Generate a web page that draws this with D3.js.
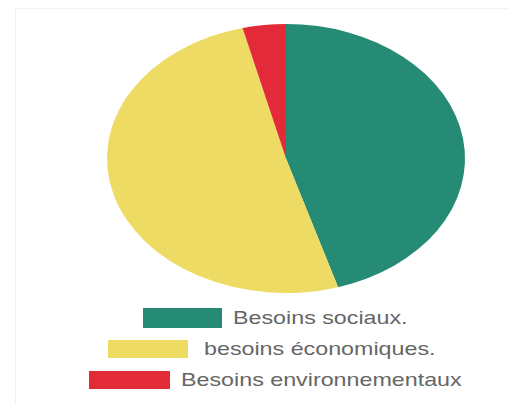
<!DOCTYPE html>
<html>
<head>
<meta charset="utf-8">
<script src="https://cdn.jsdelivr.net/npm/d3@7"></script>
<style>
  html, body { margin: 0; padding: 0; background: #fff; }
  svg { display: block; }
</style>
</head>
<body>
<svg id="chart" width="509" height="405"></svg>
<script>
// Share of needs (percent)
const categories = ["Besoins sociaux.", "besoins économiques.", "Besoins environnementaux"];
const values = [45.3, 50.8, 3.9];
const colors = ["#268b74", "#eedb63", "#e22a38"];

const W = 509, H = 405;
const svg = d3.select("#chart");

// faint frame around the panel
svg.append("line").attr("x1", 15).attr("x2", W).attr("y1", 8.5).attr("y2", 8.5)
  .attr("stroke", "#f2f2f2").attr("stroke-width", 1);
svg.append("line").attr("x1", 15.5).attr("x2", 15.5).attr("y1", 8).attr("y2", H)
  .attr("stroke", "#f2f2f2").attr("stroke-width", 1);

// horizontally stretched pie
const cx = 286, cy = 158.5, rx = 179, ry = 134.5;
const sx = rx / ry;

const pie = d3.pie().sort(null).value(d => d)(values);
const arc = d3.arc().innerRadius(0).outerRadius(ry);
const color = d3.scaleOrdinal().domain(categories).range(colors);

svg.append("g")
  .attr("transform", `translate(${cx},${cy}) scale(${sx},1)`)
  .selectAll("path")
  .data(pie)
  .join("path")
  .attr("d", arc)
  .attr("fill", (d, i) => color(categories[i]));

// legend
const legendRows = [
  { rx: 143, rw: 79, ry: 308, rh: 20, tx: 233, ty: 324 },
  { rx: 108, rw: 80, ry: 340, rh: 18, tx: 204, ty: 355 },
  { rx: 89,  rw: 81, ry: 371, rh: 18, tx: 181, ty: 386 }
];

const lg = svg.append("g");
categories.forEach((c, i) => {
  const r = legendRows[i];
  lg.append("rect")
    .attr("x", r.rx).attr("y", r.ry)
    .attr("width", r.rw).attr("height", r.rh)
    .attr("fill", color(c));
  lg.append("text")
    .attr("transform", `translate(${r.tx},${r.ty}) scale(${sx},1)`)
    .attr("font-family", "Liberation Sans, Arial, sans-serif")
    .attr("font-size", 17.5)
    .attr("fill", "#666")
    .text(c);
});
</script>
</body>
</html>
